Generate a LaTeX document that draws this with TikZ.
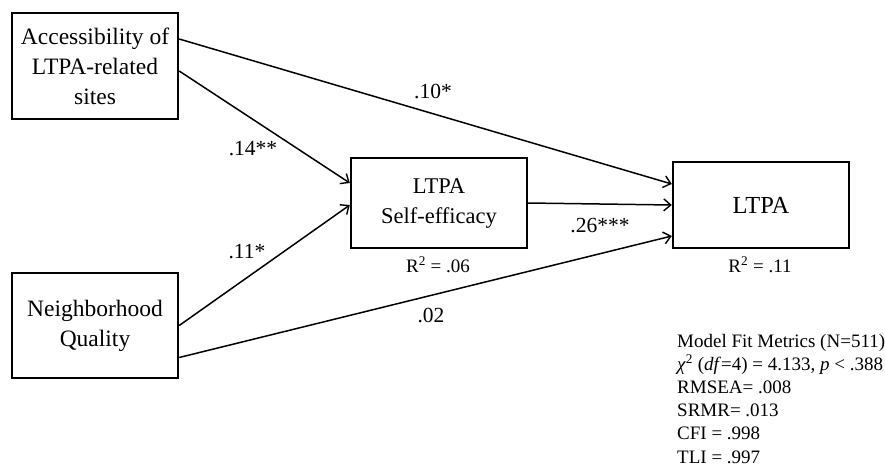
\documentclass[tikz,border=0pt]{standalone}
\usepackage{fontspec}
\setmainfont{Liberation Serif}
\usetikzlibrary{arrows.meta,calc,positioning}

\begin{document}
\begin{tikzpicture}[x=1pt,y=-1pt,
	var/.style={draw,line width=2.4pt,align=center,inner sep=0pt},
	effect/.style={line width=1.5pt,-{Straight Barb[length=7pt,width=12pt,line width=1.4pt]}},
	coef/.style={anchor=base,inner sep=0pt,font=\fontsize{21.5}{24}\selectfont},
	rsq/.style={anchor=base,inner sep=0pt,font=\fontsize{19}{22}\selectfont},
	fitline/.style={anchor=base west,inner sep=0pt,font=\fontsize{19}{22}\selectfont}]
	\useasboundingbox (0,0) rectangle (885,466);
	% variables
	\node[var,minimum width=166pt,minimum height=106pt,font=\fontsize{23.5}{30}\selectfont] (access) at (95,66) {Accessibility of\\LTPA-related\\sites};
	\node[var,minimum width=166pt,minimum height=105pt,font=\fontsize{23.5}{30}\selectfont] (neigh) at (95,325.5) {Neighborhood\\Quality};
	\node[var,minimum width=176pt,minimum height=90pt,font=\fontsize{22.5}{30}\selectfont] (self) at (439,203) {LTPA\\Self-efficacy};
	\node[var,minimum width=176pt,minimum height=86pt,font=\fontsize{24.5}{30}\selectfont] (ltpa) at (761,205) {LTPA};
	% paths
	\draw[effect] ($(access.east)+(0,-27)$) -- ($(ltpa.west)+(0,-21)$);
	\draw[effect] ($(access.east)+(0,5)$) -- ($(self.west)+(0,-20)$);
	\draw[effect] (neigh.east) -- ($(self.west)+(0,2)$);
	\draw[effect] ($(neigh.east)+(0,32)$) -- ($(ltpa.west)+(0,31)$);
	\draw[effect] (self.east) -- (ltpa.west);
	% coefficients
	\node[coef] (c1) at (433,98) {.10*};
	\node[coef] (c2) at (253,155) {.14**};
	\node[coef] (c3) at (247,258) {.11*};
	\node[coef] (c4) at (431,322) {.02};
	\node[coef] (c5) at (600,232) {.26***};
	\node[rsq] (r1) at (438,272) {R\textsuperscript{2} = .06};
	\node[rsq] (r2) at (760,272) {R\textsuperscript{2} = .11};
	% fit
	\foreach \txt [count=\i] in {{Model Fit Metrics (N=511)},{\textit{χ}\textsuperscript{2} (\textit{df}=4) = 4.133, \textit{p} < .388},{RMSEA= .008},{SRMR= .013},{CFI = .998},{TLI = .997}}
		\node[fitline] (fit\i) at (677,{347+23.2*(\i-1)}) {\txt};
\end{tikzpicture}
\end{document}
